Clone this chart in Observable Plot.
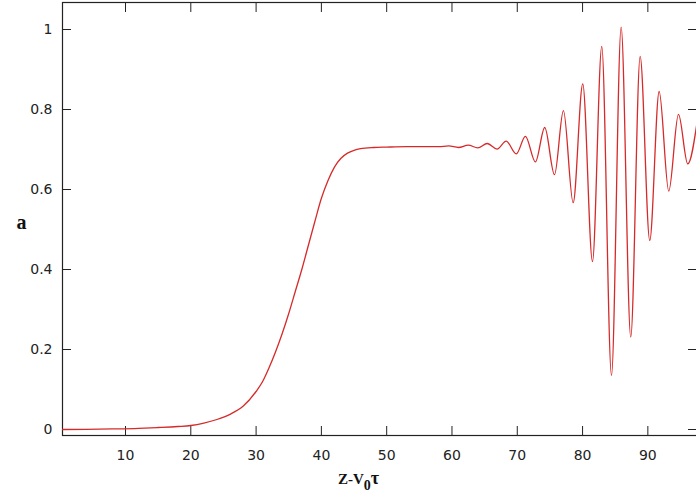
<!DOCTYPE html>
<html>
<head>
<meta charset="utf-8">
<script src="https://cdn.jsdelivr.net/npm/d3@7"></script>
<script src="https://cdn.jsdelivr.net/npm/@observablehq/plot@0.6"></script>
<style>
  html, body { margin: 0; padding: 0; background: #fff; }
</style>
</head>
<body>
<div id="chart"></div>
<script>
// Curve samples (x = Z - V0·τ, y = a)
const xs = [0.35, 4, 8, 12, 15, 18, 20, 22, 24, 26, 28, 30, 31, 32, 33, 34, 35, 36, 37, 38, 39, 40, 41, 42, 43, 44, 45, 46, 48, 50, 53, 56, 58,
  59.5, 61.0, 62.5, 63.95, 65.4, 66.9, 68.3, 69.85, 71.25, 72.78, 74.21, 75.70, 77.07, 78.56, 80.03, 81.52,
  82.94, 84.43, 85.91, 87.38, 88.82, 90.29, 91.73, 93.20, 94.69, 96.11, 97.6];
const ys = [0.000, 0.0005, 0.0015, 0.003, 0.005, 0.0075, 0.010, 0.016, 0.025, 0.038, 0.058, 0.095, 0.12, 0.155, 0.195, 0.24, 0.29, 0.345, 0.40, 0.46, 0.52, 0.578, 0.622, 0.656, 0.678, 0.691, 0.698, 0.702, 0.705, 0.706, 0.707, 0.707, 0.707,
  0.709, 0.705, 0.711, 0.704, 0.715, 0.701, 0.721, 0.689, 0.733, 0.669, 0.755, 0.637, 0.797, 0.567, 0.864, 0.420,
  0.958, 0.135, 1.006, 0.231, 0.933, 0.4725, 0.845, 0.596, 0.788, 0.664, 0.775];
const xTicks = [10, 20, 30, 40, 50, 60, 70, 80, 90];
const yTicks = [0, 0.2, 0.4, 0.6, 0.8, 1];
const yTickLabels = ["0", "0.2", "0.4", "0.6", "0.8", "1"];
const xTitle = ["Z-V", "0", "τ"];
const yTitle = "a";

const data = xs.map((x, i) => ({x, y: ys[i]}));

const chart = Plot.plot({
  width: 696,
  height: 499,
  marginLeft: 62,
  marginRight: 0,
  marginTop: 2,
  marginBottom: 64,
  x: {domain: [0.35, 97.45]},
  y: {domain: [-0.015, 1.0675]},
  style: {fontFamily: "'DejaVu Sans', sans-serif", fontSize: "14px", color: "#222", background: "#fff"},
  marks: [
    Plot.frame({stroke: "#222", strokeWidth: 1.2, insetRight: -4}),
    // labels
    Plot.axisX(xTicks, {anchor: "bottom", tickSize: 0, tickPadding: 15, label: null, fontSize: 14, tickFormat: d => String(d)}),
    Plot.axisY(yTicks, {anchor: "left", tickSize: 0, tickPadding: 10, label: null, fontSize: 14, tickFormat: (d, i) => yTickLabels[i]}),
    // inward ticks, all four sides
    Plot.axisX(xTicks, {anchor: "bottom", tickSize: 9, dy: -9, fill: "none", label: null}),
    Plot.axisX(xTicks, {anchor: "top", tickSize: 9, dy: 9, fill: "none", label: null}),
    Plot.axisY(yTicks, {anchor: "left", tickSize: 9, dx: 9, fill: "none", label: null}),
    Plot.axisY(yTicks, {anchor: "right", tickSize: 9, dx: -9, fill: "none", label: null}),
    // curve
    Plot.line(data, {x: "x", y: "y", curve: "monotone-x", stroke: "#d62a2a", strokeWidth: 1.3, clip: true}),
    // axis titles
    Plot.text([yTitle], {text: d => d, frameAnchor: "left", dx: -46, dy: 4, fontFamily: "'Liberation Serif', serif", fontWeight: "bold", fontSize: 20, fill: "#111"}),
    Plot.text([xTitle.join("")], {text: d => d, frameAnchor: "bottom", dx: -21, dy: 48, lineAnchor: "bottom", fontFamily: "'Liberation Serif', serif", fontWeight: "bold", fontSize: 15, fill: "#111"})
  ]
});

document.getElementById("chart").appendChild(chart);

// Render the subscript in the x title
const full = xTitle.join("");
d3.select(chart).selectAll("text").each(function () {
  if (this.textContent === full) {
    const t = d3.select(this);
    t.text(null);
    t.append("tspan").text(xTitle[0]);
    t.append("tspan").attr("dy", 6).attr("font-size", 14).text(xTitle[1]);
    t.append("tspan").attr("dy", -6).attr("font-size", 18).text(xTitle[2]);
  }
});
</script>
</body>
</html>
